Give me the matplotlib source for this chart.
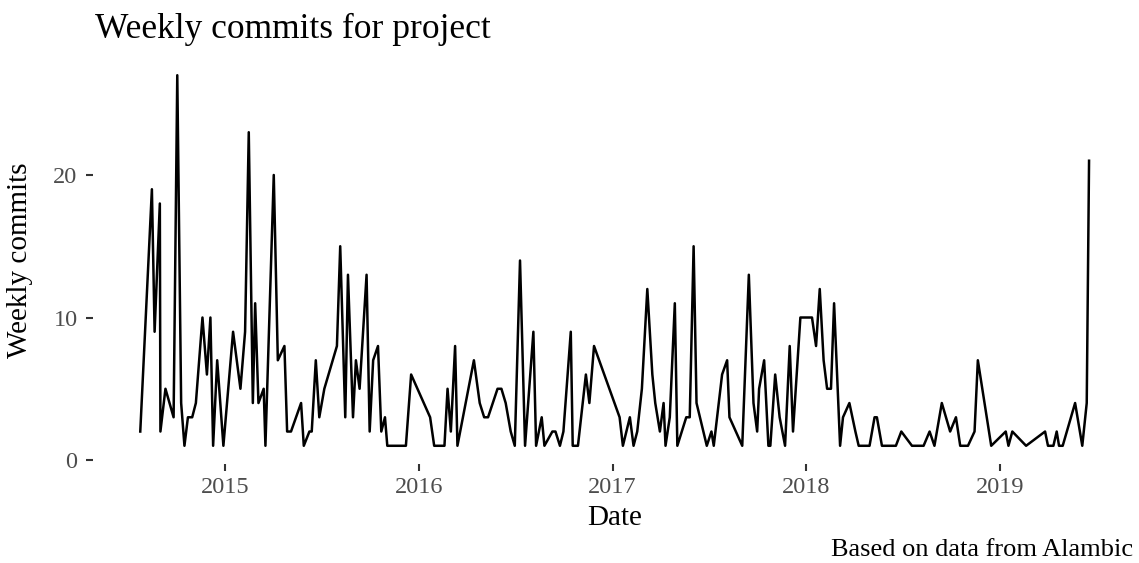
import matplotlib
matplotlib.use("Agg")
import matplotlib.pyplot as plt

# week positions (decimal years) and commit counts
week_pos = [
    2014.562, 2014.622, 2014.636, 2014.663, 2014.666, 2014.692, 2014.734, 2014.753,
    2014.773, 2014.790, 2014.808, 2014.830, 2014.849, 2014.883, 2014.906, 2014.924,
    2014.938, 2014.959, 2014.991, 2015.041, 2015.079, 2015.103, 2015.122, 2015.143,
    2015.155, 2015.172, 2015.199, 2015.208, 2015.251, 2015.272, 2015.306, 2015.320,
    2015.340, 2015.366, 2015.392, 2015.406, 2015.435, 2015.447, 2015.468, 2015.486,
    2015.512, 2015.577, 2015.594, 2015.620, 2015.634, 2015.660, 2015.675, 2015.694,
    2015.730, 2015.746, 2015.764, 2015.789, 2015.806, 2015.825, 2015.837, 2015.856,
    2015.876, 2015.897, 2015.912, 2015.933, 2015.960, 2016.058, 2016.079, 2016.098,
    2016.113, 2016.132, 2016.148, 2016.165, 2016.187, 2016.199, 2016.284, 2016.314,
    2016.337, 2016.357, 2016.406, 2016.426, 2016.448, 2016.474, 2016.495, 2016.522,
    2016.548, 2016.591, 2016.605, 2016.634, 2016.648, 2016.689, 2016.705, 2016.728,
    2016.746, 2016.784, 2016.794, 2016.821, 2016.862, 2016.880, 2016.904, 2017.036,
    2017.053, 2017.089, 2017.108, 2017.127, 2017.151, 2017.179, 2017.205, 2017.220,
    2017.244, 2017.263, 2017.273, 2017.295, 2017.321, 2017.334, 2017.380, 2017.398,
    2017.418, 2017.433, 2017.486, 2017.510, 2017.522, 2017.565, 2017.591, 2017.603,
    2017.669, 2017.703, 2017.727, 2017.746, 2017.756, 2017.782, 2017.804, 2017.814,
    2017.839, 2017.862, 2017.890, 2017.914, 2017.931, 2017.969, 2017.990, 2018.010,
    2018.029, 2018.050, 2018.069, 2018.089, 2018.107, 2018.127, 2018.143, 2018.174,
    2018.189, 2018.222, 2018.253, 2018.270, 2018.298, 2018.312, 2018.326, 2018.352,
    2018.364, 2018.390, 2018.462, 2018.490, 2018.545, 2018.605, 2018.636, 2018.661,
    2018.699, 2018.742, 2018.772, 2018.794, 2018.834, 2018.868, 2018.885, 2018.954,
    2019.029, 2019.043, 2019.063, 2019.134, 2019.232, 2019.247, 2019.275, 2019.292,
    2019.304, 2019.323, 2019.387, 2019.424, 2019.447, 2019.459,
]
commits = [
    2, 19, 9, 18, 2, 5, 3, 27,
    4, 1, 3, 3, 4, 10, 6, 10,
    1, 7, 1, 9, 5, 9, 23, 4,
    11, 4, 5, 1, 20, 7, 8, 2,
    2, 3, 4, 1, 2, 2, 7, 3,
    5, 8, 15, 3, 13, 3, 7, 5,
    13, 2, 7, 8, 2, 3, 1, 1,
    1, 1, 1, 1, 6, 3, 1, 1,
    1, 1, 5, 2, 8, 1, 7, 4,
    3, 3, 5, 5, 4, 2, 1, 14,
    1, 9, 1, 3, 1, 2, 2, 1,
    2, 9, 1, 1, 6, 4, 8, 3,
    1, 3, 1, 2, 5, 12, 6, 4,
    2, 4, 1, 3, 11, 1, 3, 3,
    15, 4, 1, 2, 1, 6, 7, 3,
    1, 13, 4, 2, 5, 7, 1, 1,
    6, 3, 1, 8, 2, 10, 10, 10,
    10, 8, 12, 7, 5, 5, 11, 1,
    3, 4, 2, 1, 1, 1, 1, 3,
    3, 1, 1, 2, 1, 1, 2, 1,
    4, 2, 3, 1, 1, 2, 7, 1,
    2, 1, 2, 1, 2, 1, 1, 2,
    1, 1, 4, 1, 4, 21,
]
year_ticks = [2015, 2016, 2017, 2018, 2019]
count_ticks = [0, 10, 20]

plt.rcParams['font.family'] = ['Liberation Serif', 'DejaVu Serif']

fig = plt.figure(figsize=(11.39, 5.63), dpi=100)
ax = fig.add_axes([0.0815, 0.1753, 0.9163, 0.724])

ax.plot(week_pos, commits, color='black', lw=1.8)

ax.set_xticks(year_ticks)
ax.set_xticklabels([str(y) for y in year_ticks])
ax.set_yticks(count_ticks)
ax.tick_params(colors='#333333', labelcolor='#4D4D4D', labelsize=17.5,
               length=5, width=1.5)
ax.tick_params(axis='y', pad=6)
ax.tick_params(axis='x', pad=4)
for s in ax.spines.values():
    s.set_visible(False)

ax.set_xlabel('Date', fontsize=21)
ax.set_ylabel('Weekly commits', fontsize=21)
ax.xaxis.set_label_coords(0.5, -0.10)
ax.yaxis.set_label_coords(-0.0575, 0.5)
fig.text(0.0835, 0.932, 'Weekly commits for project', fontsize=25.5,
         ha='left', va='baseline')
fig.text(0.995, 0.012, 'Based on data from Alambic', fontsize=19,
         ha='right', va='baseline')

fig.savefig('out.png', dpi=100)
